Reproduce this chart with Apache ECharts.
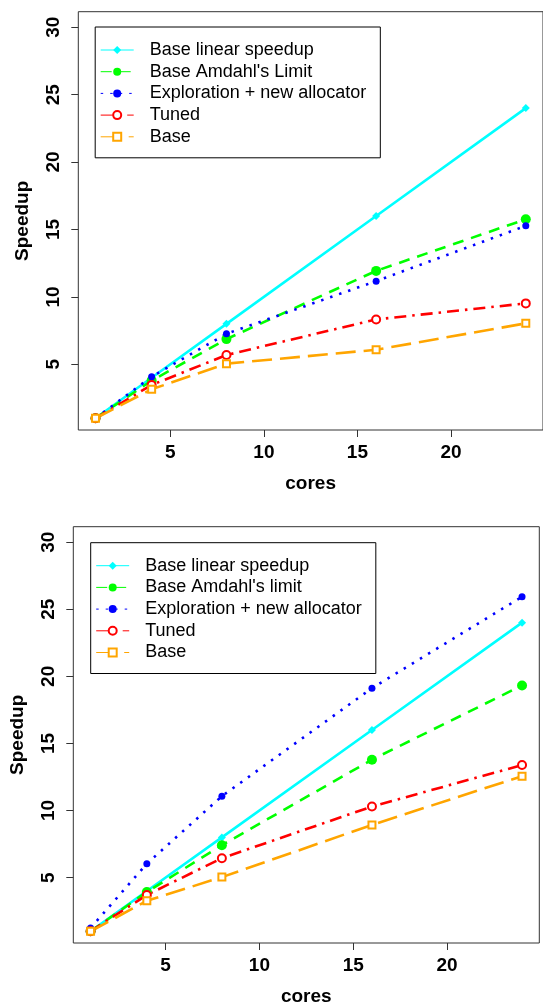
<!DOCTYPE html>
<html>
<head>
<meta charset="utf-8">
<script src="https://cdn.jsdelivr.net/npm/echarts@6/dist/echarts.min.js"></script>
<style>
html,body{margin:0;padding:0;background:#fff;}
#chart{width:543px;height:1007px;}
</style>
</head>
<body>
<div id="chart"></div>
<script>
// ---- data ----
var cores = [1, 4, 8, 16, 24];
var xTicks = [5, 10, 15, 20];
var yTicks = [5, 10, 15, 20, 25, 30];

var topNames = ["Base linear speedup", "Base Amdahl's Limit", "Exploration + new allocator", "Tuned", "Base"];
var topLinear  = [1, 4, 8, 16, 24];
var topAmdahl  = [1, 3.79, 6.87, 11.93, 15.76];
var topExplore = [1, 4.08, 7.27, 11.17, 15.27];
var topTuned   = [1, 3.47, 5.69, 8.33, 9.52];
var topBase    = [1, 3.15, 5.05, 6.08, 8.04];

var botNames = ["Base linear speedup", "Base Amdahl's limit", "Exploration + new allocator", "Tuned", "Base"];
var botLinear  = [1, 4, 8, 16, 24];
var botAmdahl  = [1, 3.93, 7.42, 13.79, 19.32];
var botExplore = [1.25, 6.04, 11.07, 19.12, 25.93];
var botTuned   = [1, 3.71, 6.45, 10.30, 13.39];
var botBase    = [1, 3.27, 5.04, 8.93, 12.56];

// ---- styles ----
var FONT = "'Liberation Sans', Arial, Helvetica, sans-serif";
var styles = [
  {color: '#00FFFF', symbol: 'diamond', size: 8, dash: 'solid', filled: true},
  {color: '#00FF00', symbol: 'circle', size: 10, dash: [11, 8], filled: true},
  {color: '#0000FF', symbol: 'circle', size: 7, dash: [2.5, 7], filled: true},
  {color: '#FF0000', symbol: 'emptyCircle', size: 8, dash: [12, 6, 2.5, 6], filled: false},
  {color: '#FFA500', symbol: 'emptyRect', size: 7, dash: [20, 8], filled: false}
];

function pairs(vals) {
  return cores.map(function (c, i) { return [c, vals[i]]; });
}

function makeSeries(names, arrays, idx) {
  return arrays.map(function (vals, k) {
    var s = styles[k];
    return {
      name: names[k],
      type: 'line',
      xAxisIndex: idx,
      yAxisIndex: idx,
      data: pairs(vals),
      symbol: s.symbol,
      symbolSize: s.size,
      showAllSymbol: true,
      clip: false,
      animation: false,
      lineStyle: {color: s.color, width: 2.6, type: s.dash},
      itemStyle: {color: s.color, borderColor: s.color, borderWidth: s.filled ? 0 : 2},
      emphasis: {disabled: true}
    };
  });
}

function xAxis(idx) {
  return {
    gridIndex: idx, type: 'value', min: 0.08, max: 24.92,
    name: 'cores', nameLocation: 'middle', nameGap: 44,
    nameTextStyle: {fontFamily: FONT, fontWeight: 'bold', fontSize: 19, color: '#000'},
    axisLine: {show: false},
    axisTick: {show: true, length: 7, customValues: xTicks, lineStyle: {color: '#333', width: 1}},
    axisLabel: {customValues: xTicks, margin: 13, fontFamily: FONT, fontWeight: 'bold', fontSize: 19, color: '#000'},
    splitLine: {show: false}
  };
}
function yAxis(idx) {
  return {
    gridIndex: idx, type: 'value', min: 0.13, max: 31.15,
    name: 'Speedup', nameLocation: 'middle', nameGap: 46, nameRotate: 90,
    nameTextStyle: {fontFamily: FONT, fontWeight: 'bold', fontSize: 19, color: '#000'},
    axisLine: {show: false},
    axisTick: {show: true, length: 7, customValues: yTicks, lineStyle: {color: '#333', width: 1}},
    axisLabel: {customValues: yTicks, rotate: 90, margin: 15, fontFamily: FONT, fontWeight: 'bold', fontSize: 19, color: '#000'},
    splitLine: {show: false}
  };
}
function legend(names, left, top) {
  return {
    data: names, orient: 'vertical', left: left, top: top,
    padding: [14, 14, 12, 5],
    itemWidth: 33, itemHeight: 10, itemGap: 3.7,
    borderColor: '#000', borderWidth: 1, backgroundColor: '#fff',
    selectedMode: false,
    lineStyle: {width: 1},
    textStyle: {fontFamily: FONT, fontSize: 18, color: '#000', padding: [0, 0, 0, 11]}
  };
}

var chart = echarts.init(document.getElementById('chart'), null, {renderer: 'canvas'});
chart.setOption({
  backgroundColor: '#fff',
  animation: false,
  grid: [
    {left: 78.3, top: 11.7, width: 465, height: 418.3, show: true, borderColor: '#333', borderWidth: 1, backgroundColor: 'transparent'},
    {left: 73.3, top: 526.7, width: 466, height: 418.8, show: true, borderColor: '#333', borderWidth: 1, backgroundColor: 'transparent'}
  ],
  xAxis: [xAxis(0), xAxis(1)],
  yAxis: [yAxis(0), yAxis(1)],
  legend: [legend(topNames, 95.2, 27), legend(botNames, 90.7, 542.7)],
  series: makeSeries(topNames, [topLinear, topAmdahl, topExplore, topTuned, topBase], 0)
    .concat(makeSeries(botNames, [botLinear, botAmdahl, botExplore, botTuned, botBase], 1))
});
</script>
</body>
</html>
